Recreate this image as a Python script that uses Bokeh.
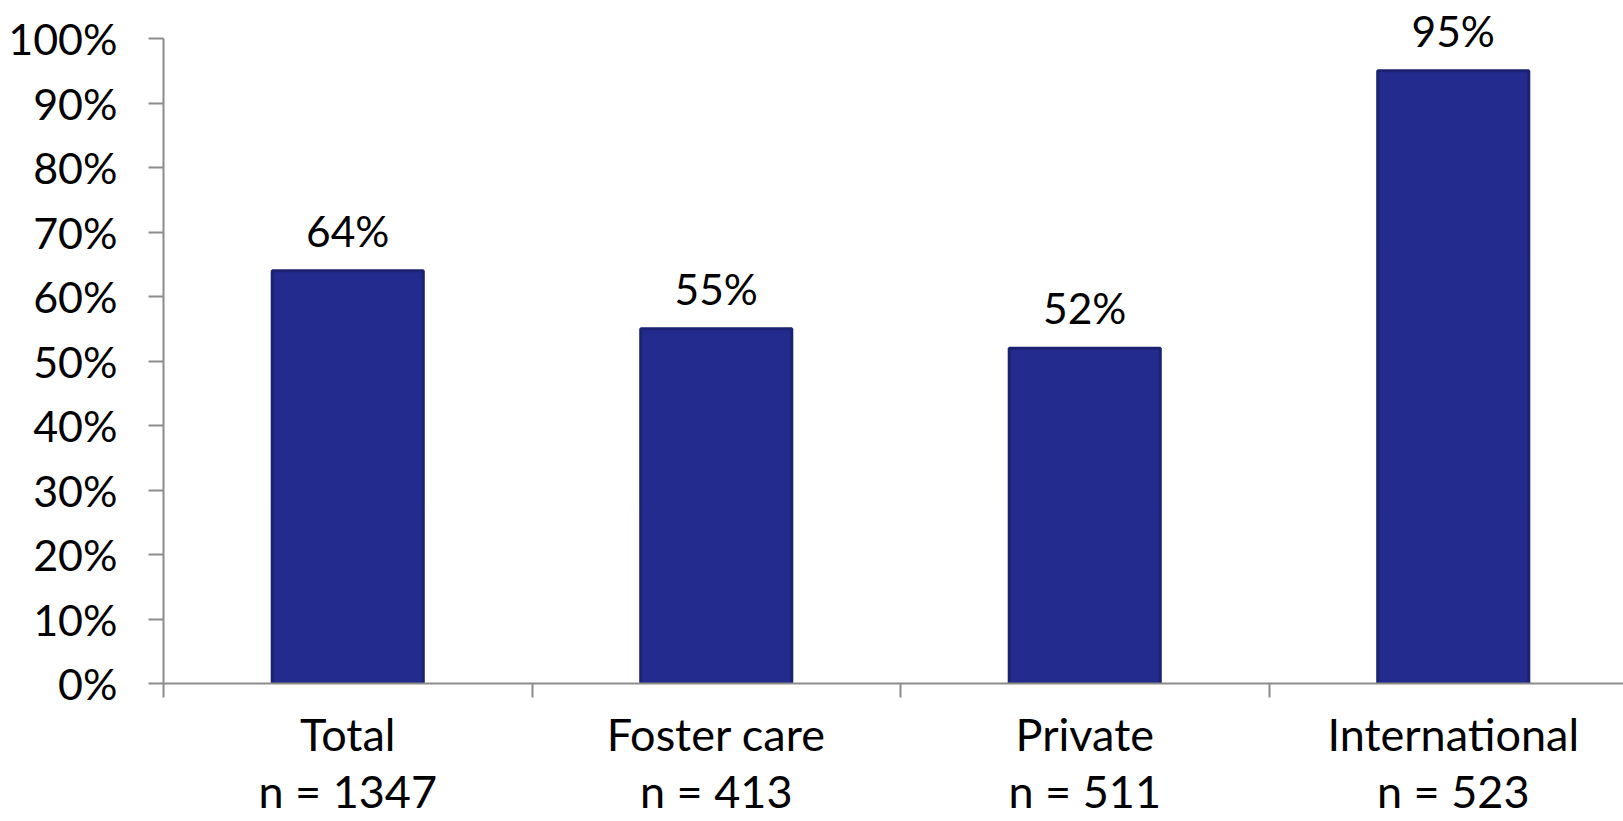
from bokeh.plotting import figure
from bokeh.models import Range1d, FixedTicker, ColumnDataSource, LabelSet
from bokeh.core.properties import value
from bokeh.embed import file_html
from bokeh.resources import INLINE

categories = ["Total", "Foster care", "Private", "International"]
n_values = [1347, 413, 511, 523]
percent = [64, 55, 52, 95]
y_ticks = [0, 10, 20, 30, 40, 50, 60, 70, 80, 90, 100]

FONT = "Lato"
AXIS_COLOR = "#8c8c8c"

x_centers = [i + 0.5 for i in range(len(categories))]
src = ColumnDataSource(dict(
    x=x_centers,
    top=percent,
    label=[f"{v}%" for v in percent],
))

p = figure(width=1623, height=821, output_backend="svg", toolbar_location=None,
           x_range=Range1d(0, 3.962), y_range=Range1d(0, 105.9),
           min_border_left=163, min_border_right=0, min_border_top=0,
           min_border_bottom=138)
p.outline_line_color = None
p.grid.grid_line_color = None
p.background_fill_color = "white"
p.border_fill_color = "white"

p.vbar(x="x", top="top", width=0.41, bottom=0, source=src,
       fill_color="#232b8f", line_color="#1c2272", line_width=3)

labels = LabelSet(x="x", y="top", text="label", source=src, y_offset=24,
                  text_align="center", text_baseline="alphabetic",
                  text_font=value(FONT), text_font_size=value("42.5px"),
                  text_color="black")
p.add_layout(labels)

# y axis
p.yaxis.ticker = FixedTicker(ticks=y_ticks)
p.yaxis.major_label_overrides = {t: f"{t}%" for t in y_ticks}
p.yaxis.bounds = (0, 100)
p.yaxis.axis_line_color = AXIS_COLOR
p.yaxis.axis_line_width = 2
p.yaxis.major_tick_line_color = AXIS_COLOR
p.yaxis.major_tick_line_width = 2
p.yaxis.major_tick_out = 15
p.yaxis.major_tick_in = 0
p.yaxis.minor_tick_line_color = None
p.yaxis.major_label_standoff = 31
p.yaxis.major_label_text_font = FONT
p.yaxis.major_label_text_font_size = "43px"
p.yaxis.major_label_text_color = "black"

# x axis
p.xaxis.ticker = FixedTicker(ticks=x_centers, minor_ticks=[0, 1, 2, 3])
p.xaxis.major_label_overrides = {
    c: f"{name}\nn = {n}" for c, name, n in zip(x_centers, categories, n_values)
}
p.xaxis.axis_line_color = AXIS_COLOR
p.xaxis.axis_line_width = 2
p.xaxis.major_tick_line_color = None
p.xaxis.minor_tick_line_color = AXIS_COLOR
p.xaxis.minor_tick_line_width = 2
p.xaxis.minor_tick_out = 14
p.xaxis.minor_tick_in = 0
p.xaxis.major_tick_out = 14
p.xaxis.major_tick_in = 0
p.xaxis.major_label_standoff = 9
p.xaxis.major_label_text_font = FONT
p.xaxis.major_label_text_font_size = "45px"
p.xaxis.major_label_text_color = "black"
p.xaxis.major_label_text_line_height = 1.07

open("out.html", "w").write(file_html(p, INLINE))
